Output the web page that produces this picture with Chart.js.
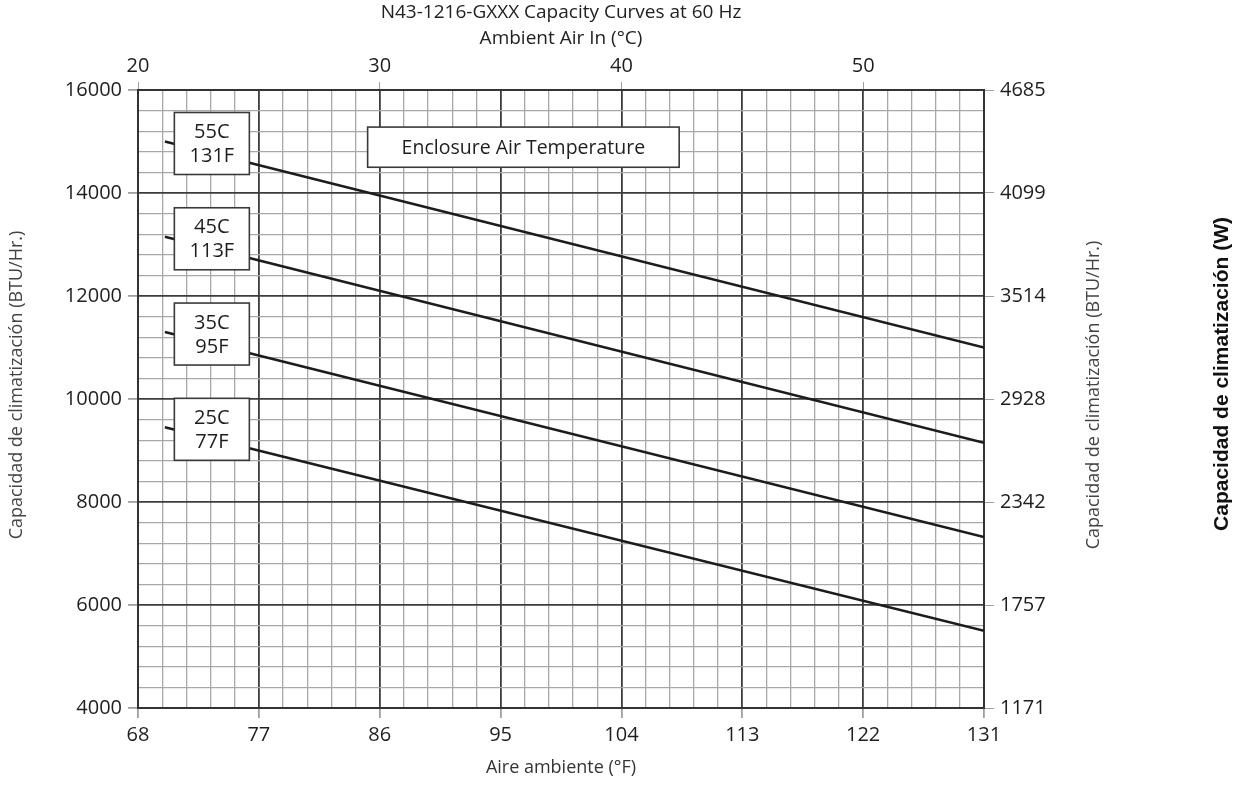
<!DOCTYPE html>
<html lang="es">
<head>
<meta charset="utf-8">
<title>N43-1216-GXXX Capacity Curves at 60 Hz</title>
<script src="https://cdn.jsdelivr.net/npm/chart.js@4.4.1/dist/chart.umd.min.js"></script>
<style>
  html, body { margin: 0; padding: 0; background: #fff; }
  #contenedor { width: 1249px; height: 786px; }
</style>
</head>
<body>
<div id="contenedor"><canvas id="grafica-capacidad"></canvas></div>
<script>
// Curvas de capacidad: temperatura del aire del gabinete
const curvasC = ['55C', '45C', '35C', '25C'];
const curvasF = ['131F', '113F', '95F', '77F'];
const inicioF = 70;
const finF = 131;
const capacidadInicio = [15000, 13150, 11300, 9450];
const capacidadFin = [11000, 9150, 7320, 5500];

// Ejes
const ticksInferioresF = [68, 77, 86, 95, 104, 113, 122, 131];
const ticksSuperioresC = [20, 30, 40, 50];
const ticksIzquierdaBtu = [4000, 6000, 8000, 10000, 12000, 14000, 16000];
const ticksDerechaW = ['1171', '1757', '2342', '2928', '3514', '4099', '4685'];

const titulo = 'N43-1216-GXXX Capacity Curves at 60 Hz';
const subtitulo = 'Ambient Air In (°C)';
const tituloX = 'Aire ambiente (°F)';
const tituloY = 'Capacidad de climatización (BTU/Hr.)';
const tituloW = 'Capacidad de climatización (W)';
const recuadroTexto = 'Enclosure Air Temperature';

const FUENTE = "'Open Sans', 'Noto Sans', sans-serif";
const minF = ticksInferioresF[0], maxF = ticksInferioresF[ticksInferioresF.length - 1];
const minBtu = ticksIzquierdaBtu[0], maxBtu = ticksIzquierdaBtu[ticksIzquierdaBtu.length - 1];

function esMayorF(v) {
  return ticksInferioresF.some(t => Math.abs(t - v) < 1e-6);
}
function esMayorBtu(v) {
  return ticksIzquierdaBtu.some(t => Math.abs(t - v) < 1e-6);
}

const datasets = curvasC.map((c, i) => ({
  label: c,
  data: [{ x: inicioF, y: capacidadInicio[i] }, { x: finF, y: capacidadFin[i] }],
  borderColor: '#1c1c1c',
  borderWidth: 2.5,
  pointRadius: 0,
  fill: false,
  tension: 0
}));

function recuadro(ctx, x, y, w, h) {
  ctx.fillStyle = '#ffffff';
  ctx.fillRect(x, y, w, h);
  ctx.strokeStyle = '#3a3a3a';
  ctx.lineWidth = 1.6;
  ctx.strokeRect(x, y, w, h);
}

function textoVertical(ctx, texto, x, y, fuente, color) {
  ctx.save();
  ctx.translate(x, y);
  ctx.rotate(-Math.PI / 2);
  ctx.font = fuente;
  ctx.fillStyle = color;
  ctx.textAlign = 'center';
  ctx.textBaseline = 'middle';
  ctx.fillText(texto, 0, 0);
  ctx.restore();
}

// Recuadros de texto y títulos verticales
const etiquetas = {
  id: 'etiquetas',
  afterDatasetsDraw(chart) {
    const { ctx, scales: { x, y } } = chart;
    ctx.save();

    curvasC.forEach((c, i) => {
      const cx = x.getPixelForValue(inicioF + 3.5);
      const cy = y.getPixelForValue(capacidadInicio[i]) + 2;
      recuadro(ctx, cx - 37.5, cy - 31, 75, 62);
      ctx.fillStyle = '#1e1e1e';
      ctx.font = '20px ' + FUENTE;
      ctx.textAlign = 'center';
      ctx.textBaseline = 'middle';
      ctx.fillText(c, cx, cy - 11);
      ctx.fillText(curvasF[i], cx, cy + 13);
    });

    const x1 = x.getPixelForValue(85.1), x2 = x.getPixelForValue(108.3);
    const y1 = y.getPixelForValue(15280), y2 = y.getPixelForValue(14500);
    recuadro(ctx, x1, y1, x2 - x1, y2 - y1);
    ctx.fillStyle = '#1e1e1e';
    ctx.font = '19.5px ' + FUENTE;
    ctx.textAlign = 'center';
    ctx.textBaseline = 'middle';
    ctx.fillText(recuadroTexto, (x1 + x2) / 2, (y1 + y2) / 2 + 1);

    textoVertical(ctx, tituloY, 17, 385, '18px ' + FUENTE, '#444');
    textoVertical(ctx, tituloY, 1094, 395, '18px ' + FUENTE, '#444');
    textoVertical(ctx, tituloW, 1222, 374, "bold 21px 'Liberation Sans', Arial, sans-serif", '#111');
    ctx.restore();
  }
};

const ctx = document.getElementById('grafica-capacidad').getContext('2d');
new Chart(ctx, {
  type: 'line',
  data: { datasets },
  plugins: [etiquetas],
  options: {
    responsive: true,
    maintainAspectRatio: false,
    devicePixelRatio: 1,
    animation: false,
    layout: { padding: 0 },
    plugins: {
      legend: { display: false },
      tooltip: { enabled: false },
      title: { display: false }
    },
    scales: {
      x: {
        type: 'linear',
        position: 'bottom',
        min: minF,
        max: maxF,
        afterBuildTicks: scale => {
          const ticks = [];
          for (let k = 0; k <= 35; k++) ticks.push({ value: Math.round((minF + 1.8 * k) * 10) / 10 });
          scale.ticks = ticks;
        },
        afterFit: scale => { scale.height = 78; },
        ticks: {
          autoSkip: false,
          maxRotation: 0,
          padding: 5,
          color: '#1e1e1e',
          font: { family: FUENTE, size: 20 },
          callback: v => esMayorF(v) ? String(Math.round(v)) : ''
        },
        grid: {
          color: c => (c.tick && esMayorF(c.tick.value)) ? '#3c3c3c' : '#a8a8a8',
          lineWidth: c => (c.tick && esMayorF(c.tick.value)) ? 1.8 : 1.3,
          tickColor: c => (c.tick && esMayorF(c.tick.value)) ? '#a0a0a0' : 'rgba(0,0,0,0)',
          tickLength: 10
        },
        border: { display: true, color: '#333', width: 2 },
        title: {
          display: true,
          text: tituloX,
          color: '#333',
          font: { family: FUENTE, size: 18 },
          padding: { top: 0, bottom: 7 }
        }
      },
      xTop: {
        type: 'linear',
        position: 'top',
        min: minF,
        max: maxF,
        afterBuildTicks: scale => {
          scale.ticks = ticksSuperioresC.map(c => ({ value: c * 9 / 5 + 32 }));
        },
        afterFit: scale => { scale.height = 90; },
        ticks: {
          autoSkip: false,
          maxRotation: 0,
          padding: 4,
          color: '#1e1e1e',
          font: { family: FUENTE, size: 20 },
          callback: v => String(Math.round((v - 32) * 5 / 9))
        },
        grid: { drawOnChartArea: false, tickColor: '#a0a0a0', tickLength: 8 },
        border: { display: true, color: '#333', width: 2 },
        title: {
          display: true,
          text: [titulo, subtitulo],
          color: '#222',
          font: { family: FUENTE, size: 19, lineHeight: '26px' },
          padding: { top: 0, bottom: 0 }
        }
      },
      y: {
        type: 'linear',
        position: 'left',
        min: minBtu,
        max: maxBtu,
        afterBuildTicks: scale => {
          const ticks = [];
          for (let v = minBtu; v <= maxBtu; v += 400) ticks.push({ value: v });
          scale.ticks = ticks;
        },
        afterFit: scale => { scale.width = 138; },
        ticks: {
          autoSkip: false,
          padding: 6,
          color: '#1e1e1e',
          font: { family: FUENTE, size: 20 },
          callback: v => esMayorBtu(v) ? String(v) : ''
        },
        grid: {
          color: c => (c.tick && esMayorBtu(c.tick.value)) ? '#3c3c3c' : '#a8a8a8',
          lineWidth: c => (c.tick && esMayorBtu(c.tick.value)) ? 1.8 : 1.3,
          tickColor: c => (c.tick && esMayorBtu(c.tick.value)) ? '#a0a0a0' : 'rgba(0,0,0,0)',
          tickLength: 10
        },
        border: { display: true, color: '#333', width: 2 }
      },
      yW: {
        type: 'linear',
        position: 'right',
        min: minBtu,
        max: maxBtu,
        afterBuildTicks: scale => {
          scale.ticks = ticksIzquierdaBtu.map(v => ({ value: v }));
        },
        afterFit: scale => { scale.width = 265; },
        ticks: {
          autoSkip: false,
          padding: 6,
          color: '#1e1e1e',
          font: { family: FUENTE, size: 20 },
          callback: v => ticksDerechaW[ticksIzquierdaBtu.indexOf(v)]
        },
        grid: { drawOnChartArea: false, tickColor: '#a0a0a0', tickLength: 10 },
        border: { display: true, color: '#333', width: 2 }
      }
    }
  }
});
</script>
</body>
</html>
